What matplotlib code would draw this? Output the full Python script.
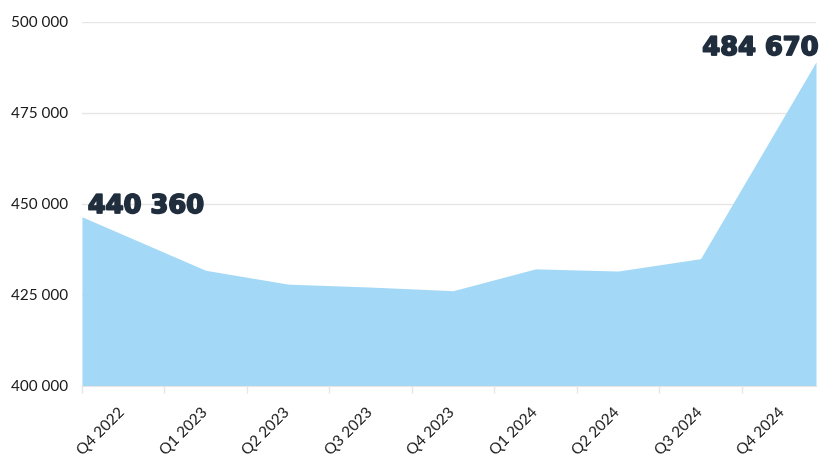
import numpy as np
import matplotlib
matplotlib.use("Agg")
import matplotlib.pyplot as plt
import matplotlib.patheffects as pe
from matplotlib.ticker import FuncFormatter, FixedLocator

categories = ["Q4 2022", "Q1 2023", "Q2 2023", "Q3 2023", "Q4 2023",
              "Q1 2024", "Q2 2024", "Q3 2024", "Q4 2024"]
values = [441500, 431700, 427900, 427100, 426100, 432100, 431500, 434900, 473500]
first_label = "440 360"
last_label = "484 670"
y_ticks = [400000, 425000, 450000, 475000, 500000]

AREA = "#A3D8F6"
DARK = "#1F2D3D"
GRID = "#E6E6E6"

fig = plt.figure(figsize=(8.23, 4.59), dpi=100)
ax = fig.add_axes([0.0996, 0.1597, 0.8919, 0.793])

x = np.arange(len(categories), dtype=float)
xmin, xmax = -0.5, 8.4
# extend the end segments to the plot edges
v = np.array(values, dtype=float)
left_v = v[0] + (v[0] - v[1]) * (x[0] - xmin)
right_v = v[-1] + (v[-1] - v[-2]) * (xmax - x[-1])
xs = np.concatenate([[xmin], x, [xmax]])
vs = np.concatenate([[left_v], v, [right_v]])
ax.fill_between(xs, vs, 400000, color=AREA, linewidth=0, zorder=2)

ax.set_xlim(xmin, xmax)
ax.set_ylim(400000, 500000)
ax.set_yticks(y_ticks)
ax.yaxis.set_major_formatter(FuncFormatter(lambda val, p: f"{int(val):,}".replace(",", " ")))
ax.grid(axis="y", color=GRID, linewidth=1, zorder=0)
ax.tick_params(axis="y", length=0, pad=10, labelsize=11, labelcolor="#1a1a1a")

ax.set_xticks(x)
ax.set_xticklabels(categories, rotation=45, ha="right", va="center",
                   rotation_mode="anchor", fontsize=11, color="#1a1a1a")
ax.tick_params(axis="x", which="major", length=0, pad=18)
ax.xaxis.set_minor_locator(FixedLocator(np.arange(-0.5, 8.0, 1.0)))
ax.tick_params(axis="x", which="minor", length=5, color=GRID, width=1)

for s in ["top", "right", "left"]:
    ax.spines[s].set_visible(False)
ax.spines["bottom"].set_color(GRID)
ax.spines["bottom"].set_zorder(3)

for lab in ax.get_xticklabels() + ax.get_yticklabels():
    lab.set_family(["Lato", "DejaVu Sans"])

heavy = [pe.withStroke(linewidth=1.3, foreground=DARK)]
ax.text(0.008, 0.4745, first_label, transform=ax.transAxes, ha="left", va="baseline",
        fontsize=18.5, fontweight="bold", color=DARK, family="DejaVu Sans", zorder=5,
        path_effects=heavy)
ax.text(1.004, 0.9085, last_label, transform=ax.transAxes, ha="right", va="baseline",
        fontsize=18.5, fontweight="bold", color=DARK, family="DejaVu Sans", zorder=5,
        clip_on=False, path_effects=heavy)

fig.savefig("out.png", dpi=100)
